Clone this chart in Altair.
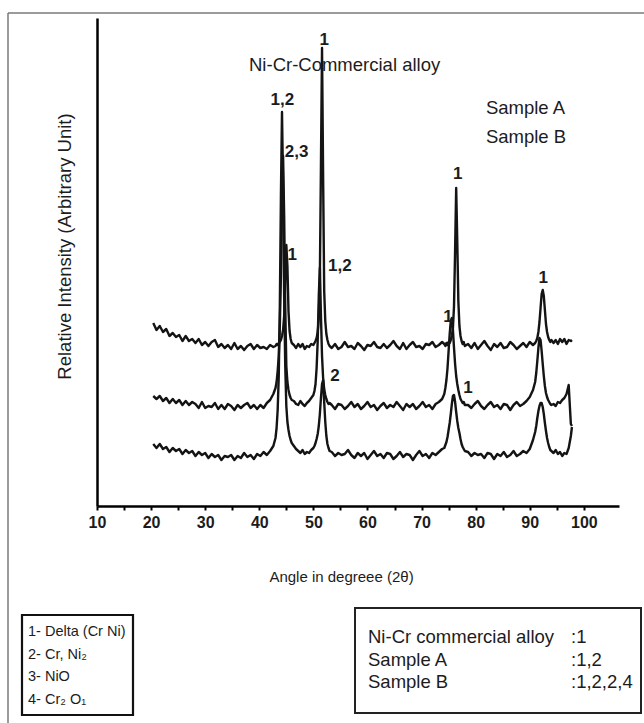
import altair as alt
import pandas as pd

# ---------------- data ----------------
angles = [
    20.4, 21.0, 21.6, 22.2, 22.8, 23.4, 24.0, 24.6, 25.2, 25.8, 26.4, 27.0, 27.6, 28.2, 28.8, 29.4,
    30.0, 30.6, 31.2, 31.8, 32.4, 33.0, 33.6, 34.2, 34.8, 35.4, 36.0, 36.6, 37.2, 37.8, 38.4, 39.0,
    39.6, 40.2, 40.8, 41.4, 42.0, 42.6,
    43.0, 43.2, 43.4, 43.6, 43.8, 44.0, 44.2, 44.4, 44.6, 44.8, 45.0, 45.2, 45.4, 45.6, 45.8, 46.0,
    46.4, 46.8, 47.2, 47.6, 48.0, 48.4, 48.8, 49.2, 49.6,
    50.0, 50.2, 50.4, 50.6, 50.8, 51.0, 51.2, 51.4, 51.6, 51.8, 52.0, 52.2, 52.4, 52.6, 52.8, 53.0,
    53.4, 54.0, 54.6, 55.2, 55.8, 56.4, 57.0, 57.6, 58.2, 58.8, 59.4, 60.0, 60.6, 61.2, 61.8, 62.4,
    63.0, 63.6, 64.2, 64.8, 65.4, 66.0, 66.6, 67.2, 67.8, 68.4, 69.0, 69.6, 70.2, 70.8, 71.4, 72.0,
    72.6, 73.2, 73.8,
    74.2, 74.4, 74.6, 74.8, 75.0, 75.2, 75.4, 75.6, 75.8, 76.0, 76.2, 76.4, 76.6, 76.8, 77.0, 77.2,
    77.4, 77.6, 77.8, 78.0,
    78.6, 79.2, 79.8, 80.4, 81.0, 81.6, 82.2, 82.8, 83.4, 84.0, 84.6, 85.2, 85.8, 86.4, 87.0, 87.6,
    88.2, 88.8, 89.4, 90.0, 90.6,
    91.0, 91.2, 91.4, 91.6, 91.8, 92.0, 92.2, 92.4, 92.6, 92.8, 93.0, 93.2, 93.4, 93.6, 93.8, 94.0,
    94.4, 94.8, 95.2, 95.6, 96.0, 96.4, 96.8, 97.2, 97.6, 97.8,
]

alloy = [
    183, 176, 180, 174, 177, 170, 173, 169, 171, 165, 170, 165, 167, 163, 167, 161,
    164, 160, 164, 166, 159, 162, 158, 161, 157, 163, 157, 160, 156, 160, 162, 157,
    161, 158, 159, 157, 161, 159,
    160, 162, 161, 163, 164, 166, 170, 176, 190, 225, 261, 240, 195, 175, 167, 163,
    161, 158, 162, 159, 162, 157, 160, 159, 162,
    161, 163, 165, 168, 174, 188, 230, 340, 458, 330, 215, 185, 172, 166, 162, 160,
    158, 162, 157, 159, 164, 159, 160, 157, 163, 160, 156, 161, 160, 164, 159, 158,
    162, 158, 161, 165, 160, 157, 163, 157, 161, 164, 159, 160, 157, 162, 161, 164,
    159, 161, 164,
    162, 160, 163, 161, 164, 163, 166, 170, 178, 200, 255, 318, 265, 205, 180, 170,
    165, 162, 164, 160,
    162, 158, 163, 157, 161, 165, 160, 156, 162, 159, 163, 158, 159, 164, 161, 157,
    160, 163, 159, 164, 161,
    163, 165, 168, 174, 184, 198, 212, 216, 210, 196, 182, 174, 169, 166, 164, 166,
    163, 166, 162, 167, 164, 167, 162, 166, 165, 166,
]

sample_a = [
    110, 107, 110, 105, 108, 103, 107, 103, 106, 101, 105, 101, 104, 102, 98, 104,
    98, 100, 99, 103, 97, 101, 97, 102, 100, 96, 101, 98, 101, 103, 98, 101,
    97, 101, 98, 103, 106, 112,
    118, 124, 135, 150, 180, 230, 300, 350, 290, 200, 140, 124, 116, 111, 108, 106,
    105, 102, 101, 105, 102, 100, 103, 105, 108,
    111, 115, 122, 138, 165, 210, 238, 190, 150, 128, 117, 111, 107, 104, 102, 103,
    101, 97, 102, 101, 97, 100, 104, 99, 102, 97, 100, 104, 99, 101, 96, 100,
    103, 98, 101, 99, 104, 100, 96, 102, 99, 102, 97, 100, 104, 99, 101, 97,
    102, 104, 107,
    112, 118, 126, 138, 155, 172, 185, 188, 176, 158, 142, 130, 122, 116, 111, 107,
    105, 103, 104, 101,
    101, 98, 102, 105, 100, 97, 101, 104, 99, 101, 97, 102, 101, 96, 101, 104,
    100, 102, 105, 109, 116,
    124, 133, 145, 158, 168, 166, 155, 142, 130, 120, 113, 109, 106, 104, 102, 101,
    102, 100, 104, 103, 106, 108, 112, 121, 82, 80,
]

sample_b = [
    62, 58, 62, 57, 59, 54, 58, 55, 57, 52, 56, 53, 55, 50, 54, 51,
    53, 48, 52, 49, 51, 46, 50, 49, 51, 46, 50, 48, 53, 49, 51, 47,
    52, 50, 54, 51, 55, 60,
    68, 78, 96, 130, 200, 310, 394, 320, 210, 140, 100, 84, 76, 70, 66, 63,
    60, 57, 55, 53, 56, 52, 54, 53, 56,
    58, 60, 63, 67, 72, 80, 92, 108, 122, 126, 104, 84, 70, 62, 58, 55,
    54, 50, 53, 51, 52, 56, 51, 48, 53, 50, 53, 47, 51, 55, 50, 52,
    48, 53, 52, 47, 50, 54, 49, 52, 51, 46, 51, 55, 50, 52, 48, 53,
    51, 54, 57,
    58, 61, 64, 69, 76, 83, 92, 102, 110, 111, 104, 94, 85, 78, 73, 67,
    62, 59, 57, 55,
    54, 50, 53, 51, 52, 48, 53, 52, 47, 52, 50, 54, 49, 51, 55, 50,
    52, 55, 53, 57, 66,
    74, 80, 88, 95, 100, 103, 103, 99, 92, 83, 75, 68, 63, 59, 56, 55,
    53, 56, 52, 54, 50, 53, 52, 58, 70, 79,
]

series_names = ["Ni-Cr commercial alloy", "Sample A", "Sample B"]

peak_text = ["1", "1,2", "2,3", "1", "1,2", "2", "1", "1", "1", "1"]
peak_angle = [52.0, 44.25, 46.9, 46.1, 54.9, 54.0, 76.7, 74.9, 78.6, 92.5]
peak_level = [466, 406, 354, 251, 240, 130, 332, 189, 118, 228]

note_text = ["Ni-Cr-Commercial alloy", "Sample A", "Sample B"]
note_angle = [38.1, 81.9, 81.9]
note_level = [441, 398, 369]

phase_key = ["1- Delta (Cr Ni)", "2- Cr, Ni\u2082", "3- NiO", "4- Cr\u2082 O\u2081"]
sample_key = ["Ni-Cr commercial alloy", "Sample A", "Sample B"]
sample_phases = [":1", ":1,2", ":1,2,2,4"]

x_ticks = [10, 15, 20, 25, 30, 35, 40, 45, 50, 55, 60, 65, 70, 75, 80, 85, 90, 95, 100]

# ---------------- build tables ----------------
rows = []
for name, vals in zip(series_names, [alloy, sample_a, sample_b]):
    assert len(vals) == len(angles)
    for i, (a, v) in enumerate(zip(angles, vals)):
        rows.append({"series": name, "angle": a, "intensity": v, "order": i})
df = pd.DataFrame(rows)

peaks = pd.DataFrame({"label": peak_text, "angle": peak_angle, "intensity": peak_level})
notes = pd.DataFrame({"label": note_text, "angle": note_angle, "intensity": note_level})
one = pd.DataFrame({"k": [0]})

FONT = "Liberation Sans"
INK = "#1c1c1c"

xs = alt.Scale(domain=[10, 106.5], nice=False, zero=False)
ys = alt.Scale(domain=[0, 488], nice=False, zero=False)

x_axis = alt.Axis(
    values=x_ticks,
    labelExpr="datum.value % 10 === 0 ? datum.label : ''",
    labelFlush=False,
    labelOverlap=False,
    grid=False,
    tickSize=4, tickWidth=2, tickColor="black",
    domainColor="black", domainWidth=2.5,
    labelFont=FONT, labelFontWeight="bold", labelFontSize=16,
    labelColor=INK, labelPadding=4,
    title="Angle in degreee (2\u03b8)",
    titleFont=FONT, titleFontSize=15, titleFontWeight="normal", titleColor=INK,
    titleX=244, titleY=70, titleBaseline="middle",
)
y_axis = alt.Axis(
    ticks=False, labels=False, grid=False,
    domainColor="black", domainWidth=2.5,
    title="Relative Intensity (Arbitrary Unit)",
    titleFont=FONT, titleFontSize=18.5, titleFontWeight="normal", titleColor=INK,
    titleX=-33, titleY=228, titleBaseline="middle",
)

X = alt.X("angle:Q", scale=xs, axis=x_axis)
Y = alt.Y("intensity:Q", scale=ys, axis=y_axis)

lines = alt.Chart(df).mark_line(color="#141414", strokeWidth=2.4, strokeJoin="round").encode(
    x=X, y=Y, detail="series:N", order="order:Q"
)

peak_labels = alt.Chart(peaks).mark_text(
    font=FONT, fontWeight="bold", fontSize=17, color=INK, align="center", baseline="middle"
).encode(x=X, y=Y, text="label:N")

note_labels = alt.Chart(notes).mark_text(
    font=FONT, fontSize=18.5, color=INK, align="left", baseline="middle"
).encode(x=X, y=Y, text="label:N")

layers = [lines, peak_labels, note_labels]

# outer frame of the figure: only its top and left edges are in the picture
layers.append(
    alt.Chart(one).mark_rule(stroke="#7a7a7a", strokeWidth=1.5).encode(
        x=alt.value(-89), x2=alt.value(700), y=alt.value(-5)
    )
)
layers.append(
    alt.Chart(one).mark_rule(stroke="#7a7a7a", strokeWidth=1.5).encode(
        x=alt.value(-89), y=alt.value(-5), y2=alt.value(760)
    )
)

# phase key box (bottom left)
layers.append(
    alt.Chart(one).mark_rect(filled=False, stroke="#111", strokeWidth=2.2).encode(
        x=alt.value(-75), x2=alt.value(36), y=alt.value(597), y2=alt.value(697)
    )
)
for i, t in enumerate(phase_key):
    layers.append(
        alt.Chart(one).mark_text(font=FONT, fontSize=14.5, color=INK, align="left", baseline="middle").encode(
            x=alt.value(-69), y=alt.value(614 + 22.7 * i), text=alt.value(t)
        )
    )

# sample key box (bottom right)
layers.append(
    alt.Chart(one).mark_rect(filled=False, stroke="#222", strokeWidth=2).encode(
        x=alt.value(258), x2=alt.value(544), y=alt.value(590), y2=alt.value(695)
    )
)
for i, (t, p) in enumerate(zip(sample_key, sample_phases)):
    layers.append(
        alt.Chart(one).mark_text(font=FONT, fontSize=18.5, color=INK, align="left", baseline="middle").encode(
            x=alt.value(271), y=alt.value(619 + 22.5 * i), text=alt.value(t)
        )
    )
    layers.append(
        alt.Chart(one).mark_text(font=FONT, fontSize=18.5, color=INK, align="left", baseline="middle").encode(
            x=alt.value(474), y=alt.value(619 + 22.5 * i), text=alt.value(p)
        )
    )

chart = alt.layer(*layers).properties(
    width=522,
    height=488,
    padding={"left": 97, "top": 18, "right": 25, "bottom": 217},
    autosize=alt.AutoSizeParams(type="none"),
    background="white",
).configure_view(stroke=None)

chart.save("out.html", embed_options={"renderer": "svg", "actions": False})
